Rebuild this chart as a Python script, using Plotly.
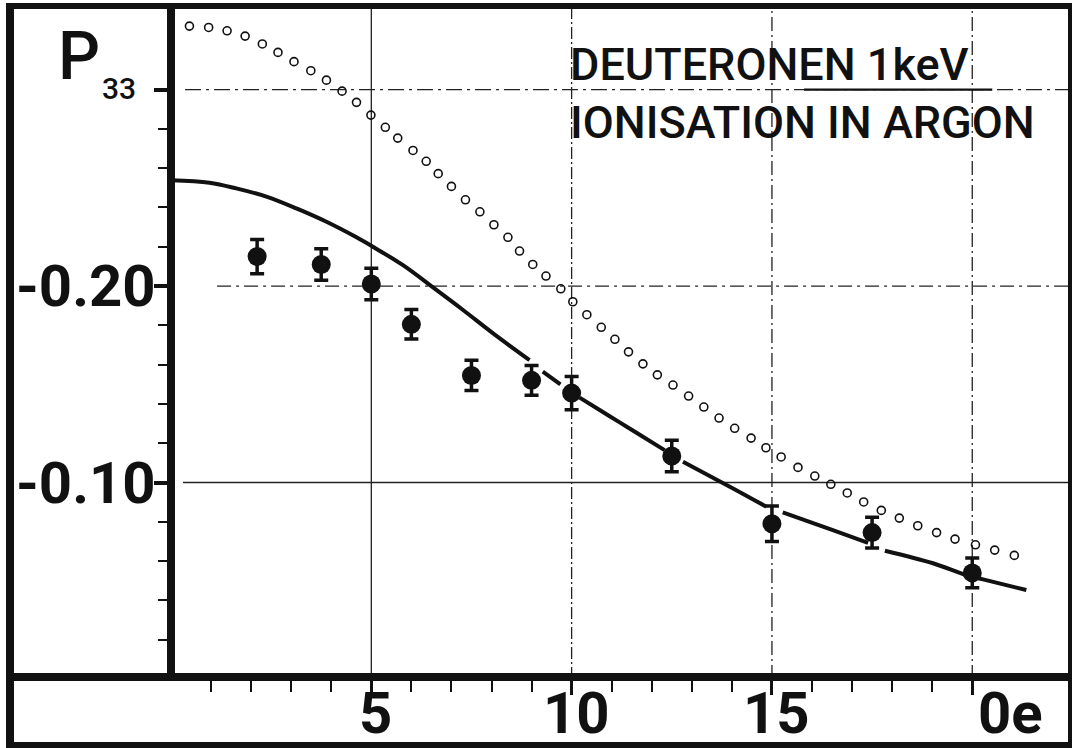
import plotly.graph_objects as go

# ---------------- data ----------------
exp_x = [2.15, 3.75, 5.0, 6.0, 7.5, 9.0, 10.0, 12.5, 15.0, 17.5, 20.0]
exp_y = [-0.215, -0.211, -0.201, -0.1805, -0.1545, -0.152, -0.1455, -0.1135, -0.079, -0.0745, -0.054]
exp_err = [0.0087, 0.008, 0.008, 0.0075, 0.0077, 0.0076, 0.0085, 0.008, 0.009, 0.0078, 0.0076]

theo_x = [0.46, 0.94, 1.40, 1.85, 2.28, 2.67, 3.07, 3.49, 3.88, 4.27,
          4.63, 4.99, 5.35, 5.66, 6.04, 6.37, 6.67, 7.00, 7.35, 7.71,
          8.06, 8.41, 8.70, 9.03, 9.36, 9.73, 10.03, 10.38, 10.74, 11.08,
          11.42, 11.78, 12.14, 12.53, 12.92, 13.30, 13.68, 14.07, 14.48, 14.85,
          15.23, 15.65, 16.07, 16.47, 16.88, 17.29, 17.73, 18.18, 18.64, 19.11,
          19.57, 20.08, 20.56, 21.05]
theo_y = [-0.3323, -0.3316, -0.3299, -0.3272, -0.3232, -0.3189, -0.3142, -0.3096, -0.3048, -0.2992,
          -0.2935, -0.2870, -0.2808, -0.2753, -0.2690, -0.2635, -0.2572, -0.2507, -0.2439, -0.2378,
          -0.2312, -0.2248, -0.2178, -0.2110, -0.2051, -0.1986, -0.1920, -0.1854, -0.1790, -0.1729,
          -0.1665, -0.1604, -0.1548, -0.1496, -0.1440, -0.1384, -0.1328, -0.1276, -0.1226, -0.1177,
          -0.1130, -0.1077, -0.1033, -0.0991, -0.0947, -0.0901, -0.0858, -0.0819, -0.0780, -0.0745,
          -0.0712, -0.0683, -0.0656, -0.0629]

curve_x = [0.0, 0.96, 1.63, 2.38, 3.13, 3.88, 4.63, 5.04, 5.79, 6.54, 7.29, 8.04, 8.95, None,
           9.28, 9.72, None,
           10.2, 10.7, 11.2, 11.7, 12.32, None,
           12.78, 14.03, 14.86, None,
           15.27, 16.52, 17.40, None,
           17.82, 19.02, 19.85, 20.27, 21.35]
curve_y = [-0.2539, -0.2526, -0.2497, -0.2455, -0.2395, -0.2327, -0.2248, -0.2200, -0.2106, -0.1993, -0.1878, -0.1759, -0.1623, None,
           -0.1564, -0.1500, None,
           -0.1432, -0.1369, -0.1306, -0.1243, -0.1165, None,
           -0.1106, -0.0970, -0.0877, None,
           -0.0848, -0.0758, -0.0693, None,
           -0.0653, -0.0589, -0.0529, -0.0507, -0.0453]

y_tick_vals = [-0.30, -0.20, -0.10]
y_tick_text = ["", "-0.20", "-0.10"]
y_minor_vals = [-0.28, -0.26, -0.24, -0.22, -0.18, -0.16, -0.14, -0.12, -0.08, -0.06, -0.04, -0.02]
x_tick_vals = [5, 10, 15, 20]
x_tick_text = ["5", "10", "15", "0e"]
x_minor_vals = [1, 2, 3, 4, 6, 7, 8, 9, 11, 12, 13, 14, 16, 17, 18, 19]

grid_x = [5, 10, 15, 20]
grid_x_dash = ["solid", "12px,3px,2px,3px", "14px,4px,2px,4px", "14px,4px,2px,4px"]
grid_y = [-0.30, -0.20, -0.10]
grid_y_start = [0.35, 1.15, 0.3]
grid_y_dash = ["16px,5px,3px,5px", "14px,5px,3px,5px", "solid"]

y_title = ["P", "33"]
title_lines = ["DEUTERONEN 1keV", "IONISATION IN ARGON"]

# ---------------- figure ----------------
W, H = 1073, 748
L, R, T, B = 171, 3, 9, 69
PW, PH = W - L - R, H - T - B

def xp(px):
    return (px - L) / PW

def yp(py):
    return (H - B - py) / PH

INK = "#111111"
BIG = "Roboto, Liberation Sans, Arial, sans-serif"

fig = go.Figure()

fig.add_trace(go.Scatter(
    x=theo_x, y=theo_y, mode="markers",
    marker=dict(symbol="circle-open", size=8, color=INK, line=dict(width=1.6, color=INK)),
    showlegend=False, hoverinfo="skip"))

fig.add_trace(go.Scatter(
    x=curve_x, y=curve_y, mode="lines",
    line=dict(color=INK, width=4, shape="spline", smoothing=1.0),
    connectgaps=False, showlegend=False, hoverinfo="skip"))

fig.add_trace(go.Scatter(
    x=exp_x, y=exp_y, mode="markers",
    marker=dict(symbol="circle", size=19, color=INK),
    error_y=dict(type="data", array=exp_err, visible=True, color=INK, thickness=3.5, width=7),
    showlegend=False, hoverinfo="skip"))

shapes = []
for gx, d in zip(grid_x, grid_x_dash):
    shapes.append(dict(type="line", xref="x", yref="paper", x0=gx, x1=gx, y0=0, y1=1,
                       line=dict(color="#222222", width=1.3, dash=d), layer="below"))
for gy, gs, d in zip(grid_y, grid_y_start, grid_y_dash):
    shapes.append(dict(type="line", xref="x", yref="y", x0=gs, x1=22.44, y0=gy, y1=gy,
                       line=dict(color="#222222", width=1.3, dash=d), layer="below"))
shapes.append(dict(type="line", xref="x", yref="y", x0=15.8, x1=20.5, y0=-0.30, y1=-0.30,
                   line=dict(color=INK, width=2.2)))

shapes += [
    dict(type="line", xref="paper", yref="paper", x0=xp(6), x1=xp(1072), y0=yp(6), y1=yp(6),
         line=dict(color=INK, width=6)),
    dict(type="line", xref="paper", yref="paper", x0=xp(10), x1=xp(10), y0=yp(3), y1=yp(748),
         line=dict(color=INK, width=8)),
    dict(type="line", xref="paper", yref="paper", x0=xp(1070), x1=xp(1070), y0=yp(3), y1=yp(746),
         line=dict(color=INK, width=4)),
    dict(type="line", xref="paper", yref="paper", x0=xp(6), x1=xp(1072), y0=yp(745), y1=yp(745),
         line=dict(color=INK, width=6)),
    dict(type="line", xref="paper", yref="paper", x0=xp(6), x1=xp(1072), y0=yp(677), y1=yp(677),
         line=dict(color=INK, width=8)),
    dict(type="line", xref="paper", yref="paper", x0=xp(171), x1=xp(171), y0=yp(3), y1=yp(677),
         line=dict(color=INK, width=8)),
]

annotations = [
    dict(text=y_title[0], xref="paper", yref="paper", x=xp(56), y=yp(57), xanchor="left", yanchor="middle",
         showarrow=False, font=dict(family=BIG, size=66, color=INK, weight=500)),
    dict(text=y_title[1], xref="paper", yref="paper", x=xp(100), y=yp(88), xanchor="left", yanchor="middle",
         showarrow=False, font=dict(family=BIG, size=30, color=INK, weight=500)),
    dict(text=title_lines[0], xref="paper", yref="paper", x=xp(568), y=yp(64), xanchor="left", yanchor="middle",
         showarrow=False, font=dict(family=BIG, size=45, color=INK, weight=500)),
    dict(text=title_lines[1], xref="paper", yref="paper", x=xp(568), y=yp(122), xanchor="left", yanchor="middle",
         showarrow=False, font=dict(family=BIG, size=45, color=INK, weight=500)),
]
x_label_shift = [4, 5, 5, 38]
for v, t, s in zip(x_tick_vals, x_tick_text, x_label_shift):
    annotations.append(dict(text=t, xref="x", yref="paper", x=v, y=yp(713), xanchor="center", yanchor="middle",
                            xshift=s, showarrow=False, font=dict(family=BIG, size=58, color=INK, weight="bold")))
for v, t in zip(y_tick_vals, y_tick_text):
    if t:
        annotations.append(dict(text=t, xref="paper", yref="y", x=xp(158), y=v, xanchor="right", yanchor="middle",
                                showarrow=False, font=dict(family=BIG, size=58, color=INK, weight="bold")))

fig.update_layout(
    template="none",
    width=W, height=H,
    margin=dict(l=L, r=R, t=T, b=B, pad=0, autoexpand=False),
    paper_bgcolor="white", plot_bgcolor="white",
    shapes=shapes, annotations=annotations,
    xaxis=dict(range=[0, 22.44], showgrid=False, zeroline=False, showline=False, automargin=False,
               tickmode="array", tickvals=x_tick_vals, showticklabels=False,
               ticks="outside", ticklen=15, tickwidth=3, tickcolor=INK,
               minor=dict(tickmode="array", tickvals=x_minor_vals, ticks="outside",
                          ticklen=12, tickwidth=1.5, tickcolor=INK, showgrid=False)),
    yaxis=dict(range=[0.0, -0.341], showgrid=False, zeroline=False, showline=False, automargin=False,
               tickmode="array", tickvals=y_tick_vals, showticklabels=False,
               ticks="outside", ticklen=16, tickwidth=3.5, tickcolor=INK,
               minor=dict(tickmode="array", tickvals=y_minor_vals, ticks="outside",
                          ticklen=12, tickwidth=1.5, tickcolor=INK, showgrid=False)),
)

fig.write_html("out.html", config={"displayModeBar": False},
               post_script="document.body.style.margin='0';document.body.style.overflow='hidden';")
